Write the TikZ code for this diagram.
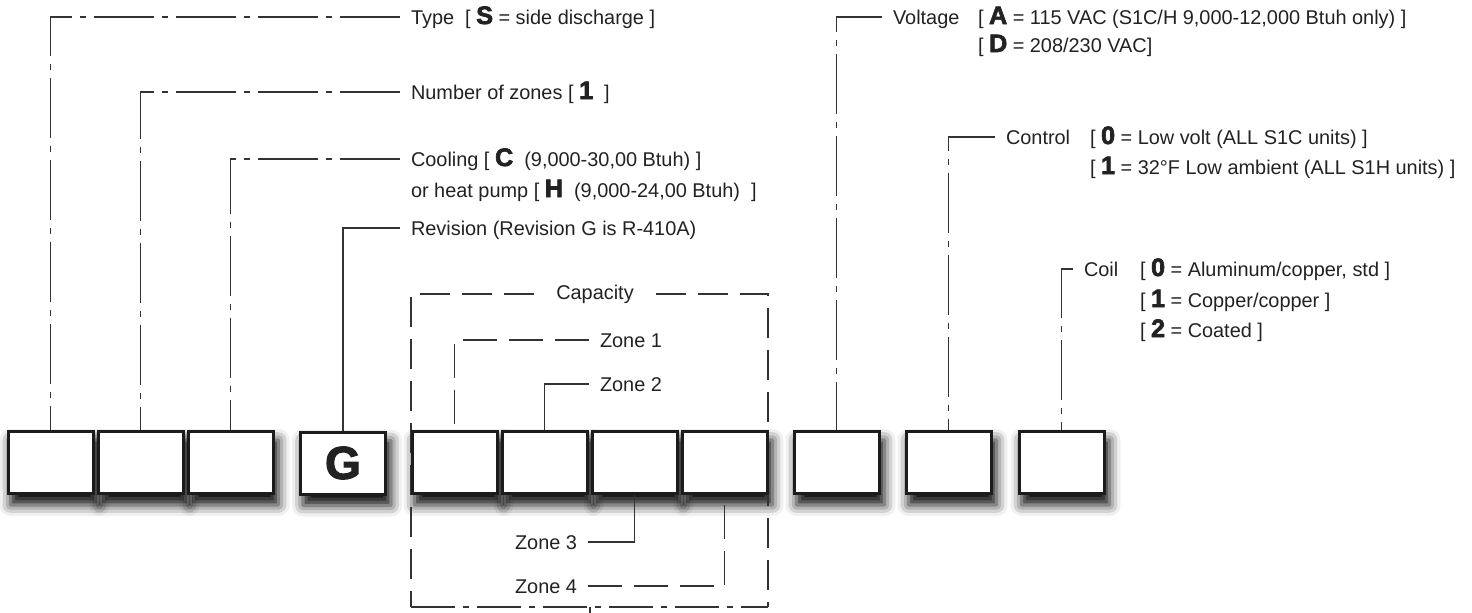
\documentclass[tikz,border=0pt]{standalone}
\usepackage{fontspec}
\setmainfont{Liberation Sans}
\newfontfamily\heavyfont[FakeBold=2.6]{Liberation Sans}
\usetikzlibrary{backgrounds,shadows.blur}
\definecolor{ink}{HTML}{222222}
\definecolor{lead}{HTML}{333333}
\definecolor{frame}{HTML}{1C1C1C}
\newcommand{\keych}[1]{{\heavyfont\bfseries\fontsize{12.6}{11}\selectfont #1}}

\begin{document}
\begin{tikzpicture}[
  x=0.5pt, y=-0.5pt,
  font=\fontsize{9.95}{11}\selectfont,
  text=ink,
  digit/.style={
    draw=frame,
    line width=1.5pt,
    fill=white,
    inner sep=0pt,
    minimum width=42.5pt,
    minimum height=31pt
  },
  tag/.style={
    anchor=west,
    inner xsep=5.5pt,
    inner ysep=0pt,
    outer sep=0pt,
    text height=7pt,
    text depth=0pt
  },
  leader/.style={draw=lead, line width=0.7pt},
  dashdot/.style={leader, dash pattern=on 30pt off 4pt on 3pt off 4pt},
  longdash/.style={leader, dash pattern=on 15pt off 6pt},
  zonedash/.style={leader, dash pattern=on 17pt off 6pt},
  bracketdot/.style={leader, dash pattern=on 22pt off 4pt on 3pt off 4pt},
  boxshadow/.style={
    blur shadow={shadow xshift=2pt, shadow yshift=-5pt,
      shadow blur radius=5.5pt, shadow opacity=95}
  }
]
\useasboundingbox (0,0) rectangle (1472,612);

% Code boxes
\node[digit] (b1) at (50.5,462.5) {};
\node[digit] (b2) at (140.5,462.5) {};
\node[digit] (b3) at (230.5,462.5) {};
\node[digit] (bG) at (343,463) {\heavyfont\bfseries\fontsize{23}{23}\selectfont G};
\node[digit] (c1) at (454.5,462.5) {};
\node[digit] (c2) at (544.5,462.5) {};
\node[digit] (c3) at (634.5,462.5) {};
\node[digit] (c4) at (724.5,462.5) {};
\node[digit] (b9) at (836.5,462.5) {};
\node[digit] (b10) at (948.5,462.5) {};
\node[digit] (b11) at (1061.5,462.5) {};

% Left-hand fields
\node[tag] (type) at (400,17) {Type~~[ \keych{S} = side discharge ]};
\node[tag] (zones) at (400,92) {Number of zones [ \keych{1} ~]};
\node[tag] (cool) at (400,159) {Cooling [ \keych{C} ~(9,000-30,00 Btuh) ]};
\node[tag] (heat) at (400,190) {or heat pump [ \keych{H} ~(9,000-24,00 Btuh) ~]};
\node[tag] (rev) at (400,228) {Revision (Revision G is R-410A)};

\draw[dashdot] (type.west) -| (b1.north);
\draw[dashdot] (zones.west) -| (b2.north);
\draw[dashdot] (cool.west) -| (b3.north);
\draw[leader] (rev.west) -| (bG.north);

% Capacity group
\node[inner xsep=11pt, inner ysep=0pt] (cap) at (595,294) {Capacity};
\node[tag] (z1) at (589,340) {Zone 1};
\node[tag] (z2) at (589,384) {Zone 2};
\node[tag, anchor=east] (z3) at (588,542) {Zone 3};
\node[tag, anchor=east] (z4) at (588,586) {Zone 4};
\coordinate (capsw) at (411,607);
\coordinate (capse) at (768,607);
\coordinate (captick) at (590,614);

\draw[zonedash] (z1.west) -| (c1.north);
\draw[leader] (z2.west) -| (c2.north);
\draw[leader] (z3.east) -| (c3.south);
\draw[zonedash] (z4.east) -| (c4.south);

% Right-hand fields
\node[tag] (volt) at (882,17) {Voltage};
\node[tag] (voltA) at (967,17) {[ \keych{A} = 115 VAC (S1C/H 9,000-12,000 Btuh only) ]};
\node[tag] (voltD) at (967,45) {[ \keych{D} = 208/230 VAC]};
\node[tag] (ctrl) at (995,137) {Control};
\node[tag] (ctrl0) at (1079,137) {[ \keych{0} = Low volt (ALL S1C units) ]};
\node[tag] (ctrl1) at (1079,167) {[ \keych{1} = 32°F Low ambient (ALL S1H units) ]};
\node[tag] (coil) at (1073,269) {Coil};
\node[tag] (coil0) at (1129,269) {[ \keych{0} = Aluminum/copper, std ]};
\node[tag] (coil1) at (1129,300) {[ \keych{1} = Copper/copper ]};
\node[tag] (coil2) at (1129,330) {[ \keych{2} = Coated ]};

\draw[dashdot] (volt.west) -| (b9.north);
\draw[dashdot] (ctrl.west) -| (b10.north);
\draw[dashdot] (coil.west) -| (b11.north);

% Shadows and capacity bracket behind the boxes
\begin{scope}[on background layer]
  \foreach \b in {b1,b2,b3,bG,c1,c2,c3,c4,b9,b10,b11}
    \path[boxshadow] (\b.north west) rectangle (\b.south east);
  \draw[longdash] (cap.west) -| (capsw);
  \draw[longdash] (cap.east) -| (capse);
  \draw[bracketdot] (capsw) -- (capse);
  \draw[leader] (captick |- capse) -- (captick);
\end{scope}

\end{tikzpicture}
\end{document}
